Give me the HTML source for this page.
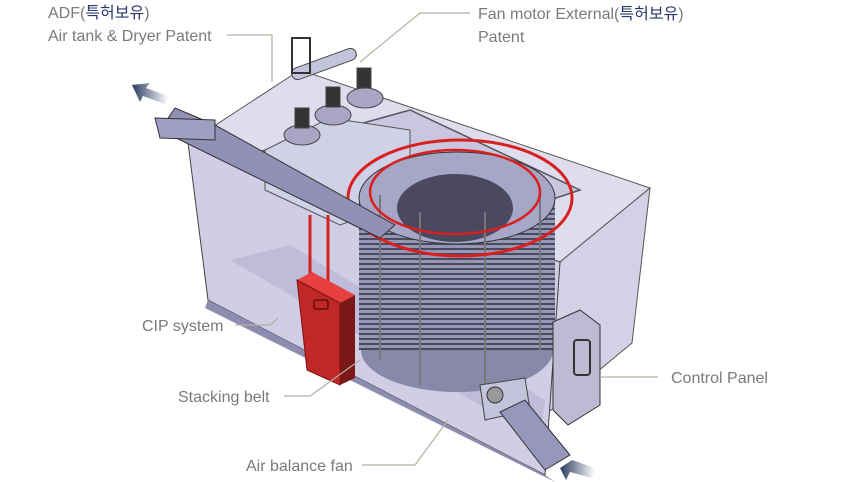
<!DOCTYPE html>
<html><head><meta charset="utf-8"><style>
html,body{margin:0;padding:0;background:#fff;width:858px;height:482px;overflow:hidden}
svg{display:block}
text{font-family:"Liberation Sans","Noto Sans CJK KR",sans-serif;font-size:16px;fill:#7a7a7a}
</style></head><body>
<svg width="858" height="482" viewBox="0 0 858 482" xmlns="http://www.w3.org/2000/svg">
<defs>
<linearGradient id="ar" x1="0" y1="0" x2="1" y2="0"><stop offset="0" stop-color="#2a3a60"/><stop offset="1" stop-color="#2a3a60" stop-opacity="0"/></linearGradient>
<pattern id="st" width="4" height="5" patternUnits="userSpaceOnUse"><rect width="4" height="5" fill="#9896b6"/><rect y="3" width="4" height="2" fill="#4a4a5e"/></pattern>
</defs>
<!-- box faces -->
<polygon points="188,143 300,70 650,188 560,262" fill="#dedded" stroke="#555" stroke-width="1"/>
<polygon points="560,262 650,188 632,343 545,415" fill="#d2d1e6" stroke="#555"/>
<polygon points="188,143 560,262 545,475 208,300" fill="#cfcee5" stroke="#444" stroke-width="1"/>
<polygon points="208,300 545,475 555,482 205,308" fill="#8e8cb0"/>
<polygon points="230,260 290,245 545,400 540,440" fill="#b9b8d6" opacity=".8"/>
<!-- inner top frame -->
<polygon points="230,160 410,110 580,190 430,240" fill="#c4c2dd" stroke="#333" stroke-width="1.5" opacity=".8"/>
<!-- fan unit box -->
<polygon points="265,150 330,118 410,130 410,200 340,225 265,190" fill="#d0d0e6" stroke="#555"/>
<!-- drum -->
<ellipse cx="457" cy="350" rx="96" ry="42" fill="#8a88a8"/>
<rect x="359" y="198" width="196" height="152" fill="url(#st)"/>
<ellipse cx="457" cy="198" rx="98" ry="46" fill="#a8a6c6" stroke="#333"/>
<ellipse cx="455" cy="208" rx="58" ry="34" fill="#4a4960"/>
<g stroke="#777" stroke-width="2"><line x1="380" y1="195" x2="380" y2="360"/><line x1="420" y1="212" x2="420" y2="385"/><line x1="485" y1="212" x2="485" y2="385"/><line x1="540" y1="195" x2="540" y2="350"/></g>
<ellipse cx="460" cy="198" rx="112" ry="58" fill="none" stroke="#d82020" stroke-width="3"/>
<ellipse cx="455" cy="192" rx="85" ry="42" fill="none" stroke="#d82020" stroke-width="2.5"/>
<!-- fans -->
<g fill="#a8a6c4" stroke="#444">
<ellipse cx="302" cy="135" rx="18" ry="10"/><rect x="295" y="108" width="14" height="20" fill="#333"/>
<ellipse cx="333" cy="115" rx="18" ry="10"/><rect x="326" y="87" width="14" height="20" fill="#333"/>
<ellipse cx="365" cy="98" rx="18" ry="10"/><rect x="357" y="68" width="14" height="20" fill="#333"/>
</g>
<!-- air tank -->
<rect x="290" y="58" width="68" height="12" rx="6" transform="rotate(-20 324 64)" fill="#c4c3dc" stroke="#444"/>
<rect x="292" y="38" width="18" height="35" fill="none" stroke="#333" stroke-width="2"/>
<!-- top-left conveyor -->
<polygon points="175,108 215,125 395,225 380,238 160,130" fill="#9290b6" stroke="#333"/>
<polygon points="155,118 215,120 215,140 160,138" fill="#a09ec2" stroke="#333"/>
<!-- CIP red cabinet -->
<line x1="310" y1="215" x2="310" y2="280" stroke="#d82020" stroke-width="3"/>
<line x1="328" y1="215" x2="328" y2="285" stroke="#d82020" stroke-width="3"/>
<polygon points="297,280 312,272 355,295 340,303" fill="#e84040"/>
<polygon points="297,280 340,303 340,385 307,370" fill="#c02828" stroke="#801010"/>
<polygon points="340,303 355,295 355,378 340,385" fill="#7a1818"/>
<rect x="314" y="300" width="14" height="9" rx="2" fill="none" stroke="#601010" stroke-width="1.5"/>
<!-- control panel -->
<polygon points="553,322 580,310 600,325 600,405 568,425 553,410" fill="#bdbbd4" stroke="#333"/>
<rect x="574" y="340" width="16" height="35" rx="3" fill="none" stroke="#333" stroke-width="2"/>
<!-- bottom conveyor -->
<polygon points="480,385 525,378 530,410 485,420" fill="#c4c3dc" stroke="#444"/>
<circle cx="495" cy="395" r="8" fill="#999" stroke="#333"/>
<polygon points="500,412 525,400 570,455 545,470" fill="#9896bb" stroke="#333"/>
<!-- arrows -->
<polygon points="132,85 150,83 146,88 168,96 165,104 143,96 140,102" fill="url(#ar)"/>
<polygon points="560,468 572,460 595,468 592,478 570,472 566,480" fill="url(#ar)"/>
<!-- leader lines -->
<g stroke="#b8aea2" stroke-width="1.2" fill="none">
<polyline points="227,35 272,35 272,82"/>
<polyline points="470,13 420,13 360,62"/>
<polyline points="235,325 270,325 278,318"/>
<polyline points="284,396 310,396 360,360"/>
<polyline points="362,465 415,465 448,420"/>
<polyline points="658,377 600,377"/>
</g>
<!-- labels -->
<text x="48" y="18">ADF(<tspan fill="#2b3a6a">특허보유</tspan>)</text>
<text x="48" y="41">Air tank &amp; Dryer Patent</text>
<text x="478" y="19">Fan motor External(<tspan fill="#2b3a6a">특허보유</tspan>)</text>
<text x="478" y="42">Patent</text>
<text x="142" y="331">CIP system</text>
<text x="178" y="402">Stacking belt</text>
<text x="246" y="471">Air balance fan</text>
<text x="671" y="383">Control Panel</text>
</svg>
</body></html>
